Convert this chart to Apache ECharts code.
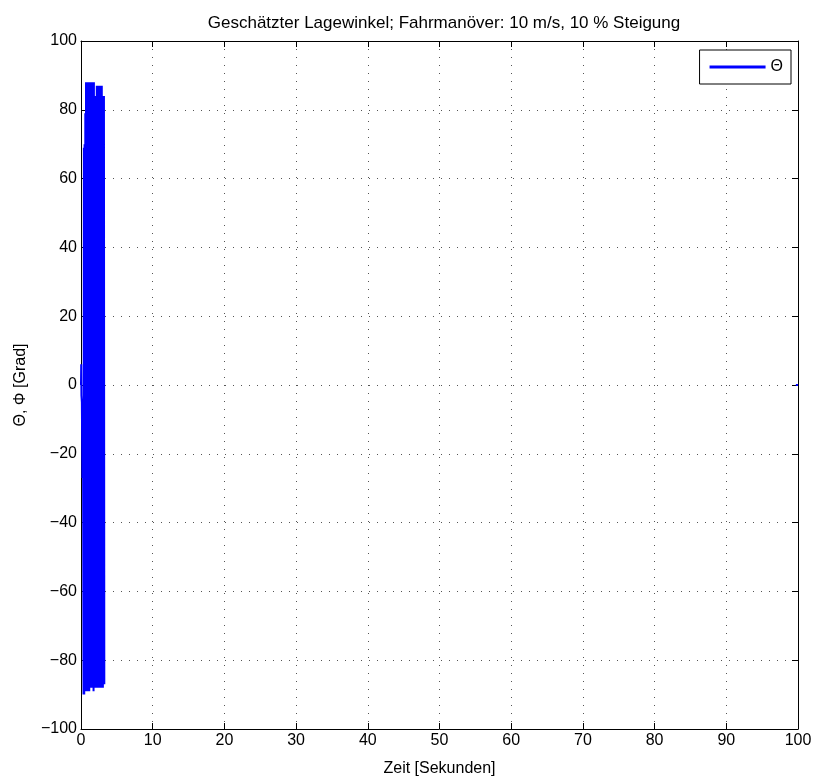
<!DOCTYPE html>
<html>
<head>
<meta charset="utf-8">
<script src="https://cdn.jsdelivr.net/npm/echarts@6/dist/echarts.min.js"></script>
<style>html,body{margin:0;padding:0;background:#fff}#c{width:815px;height:782px}</style>
</head>
<body>
<div id="c"></div>
<script>
// Time (s) and estimated pitch angle Theta (deg)
var timeSec = [0, 0.03, 0.06, 0.12, 0.2, 0.28,
  0.35, 0.40, 0.45, 0.50, 0.55, 0.60, 0.65, 0.70, 0.75, 0.80, 0.85, 0.90, 0.95, 1.00,
  1.05, 1.10, 1.15, 1.20, 1.25, 1.30, 1.35, 1.40, 1.45, 1.50, 1.55, 1.60, 1.65, 1.70,
  1.75, 1.80, 1.85, 1.90, 1.95, 2.00, 2.05, 2.10, 2.15, 2.20, 2.25, 2.30, 2.35, 2.40,
  2.45, 2.50, 2.55, 2.60, 2.65, 2.70, 2.75, 2.80, 2.85, 2.90, 2.95, 3.00, 3.05, 3.10,
  3.15, 3.20, 3.25];
var theta = [0, 6, -3, -5, -27, -10,
  -90, 69, -90, 70, -89, 79, -89, 88, -89, 88, -89, 87, -89, 88,
  -89, 88, -89, 87, -88, 88, -66, 88, -88, 87, -88, 88, -88, 87,
  -89, 88, -88, 84, -88, 84, -88, 84, -88, 87, -88, 87, -88, 87,
  -88, 87, -88, 86, -88, 87, -87, 87, -88, 87, -87, 84, -88, 84,
  -87, 84, -87];
// trailing segment visible at the right edge
var tailTime = [99.7, 100];
var tailTheta = [0, 0];
var xTicks = [0, 10, 20, 30, 40, 50, 60, 70, 80, 90, 100];
var yTicks = [-100, -80, -60, -40, -20, 0, 20, 40, 60, 80, 100];

var data = [];
for (var i = 0; i < timeSec.length; i++) data.push([timeSec[i], theta[i]]);
data.push([null, null]);
for (var j = 0; j < tailTime.length; j++) data.push([tailTime[j], tailTheta[j]]);

var FONT = 'Liberation Sans, Arial, Helvetica, sans-serif';
function fmt(v){ return String(v).replace('-', '\u2212'); }

var chart = echarts.init(document.getElementById('c'), null, {renderer: 'canvas'});
chart.setOption({
  animation: false,
  backgroundColor: '#fff',
  title: {
    text: 'Geschätzter Lagewinkel; Fahrmanöver: 10 m/s, 10 % Steigung',
    left: 439, top: 10, textAlign: 'center',
    textStyle: {fontFamily: FONT, fontSize: 17, fontWeight: 'normal', color: '#000'}
  },
  legend: {
    data: ['Θ'], right: 24, top: 50, orient: 'vertical',
    backgroundColor: '#fff', borderColor: '#000', borderWidth: 1,
    padding: [9, 8, 9, 10], itemWidth: 56, itemHeight: 3, itemGap: 6,
    icon: 'rect',
    textStyle: {fontFamily: FONT, fontSize: 16, color: '#000'}
  },
  grid: {left: 81, right: 17, top: 41, bottom: 47, containLabel: false},
  xAxis: [{
    type: 'value', min: 0, max: 100, interval: 10,
    name: 'Zeit [Sekunden]', nameLocation: 'middle', nameGap: 32,
    nameTextStyle: {fontFamily: FONT, fontSize: 16, color: '#000'},
    axisLine: {onZero: false, lineStyle: {color: '#000', width: 1}},
    axisTick: {inside: true, length: 6, lineStyle: {color: '#000'}},
    axisLabel: {fontFamily: FONT, fontSize: 16, color: '#000', margin: 4, formatter: fmt},
    splitLine: {show: true, lineStyle: {color: '#555', type: [1, 7], width: 1}}
  }, {
    type: 'value', min: 0, max: 100, interval: 10, position: 'top',
    axisLine: {onZero: false, lineStyle: {color: '#000', width: 1}},
    axisTick: {inside: true, length: 6, lineStyle: {color: '#000'}},
    axisLabel: {show: false}, splitLine: {show: false}
  }],
  yAxis: [{
    type: 'value', min: -100, max: 100, interval: 20,
    name: 'Θ, Φ [Grad]', nameLocation: 'middle', nameGap: 52, nameRotate: 90,
    nameTextStyle: {fontFamily: FONT, fontSize: 16, color: '#000'},
    axisLine: {onZero: false, lineStyle: {color: '#000', width: 1}},
    axisTick: {inside: true, length: 6, lineStyle: {color: '#000'}},
    axisLabel: {fontFamily: FONT, fontSize: 16, color: '#000', margin: 4, formatter: fmt},
    splitLine: {show: true, lineStyle: {color: '#555', type: [1, 7], width: 1}}
  }, {
    type: 'value', min: -100, max: 100, interval: 20, position: 'right',
    axisLine: {onZero: false, lineStyle: {color: '#000', width: 1}},
    axisTick: {inside: true, length: 6, lineStyle: {color: '#000'}},
    axisLabel: {show: false}, splitLine: {show: false}
  }],
  series: [{
    name: 'Θ', type: 'line', data: data, showSymbol: false, symbol: 'none',
    connectNulls: false, clip: true,
    lineStyle: {color: '#0000ff', width: 2}, itemStyle: {color: '#0000ff'}
  }]
});
</script>
</body>
</html>
